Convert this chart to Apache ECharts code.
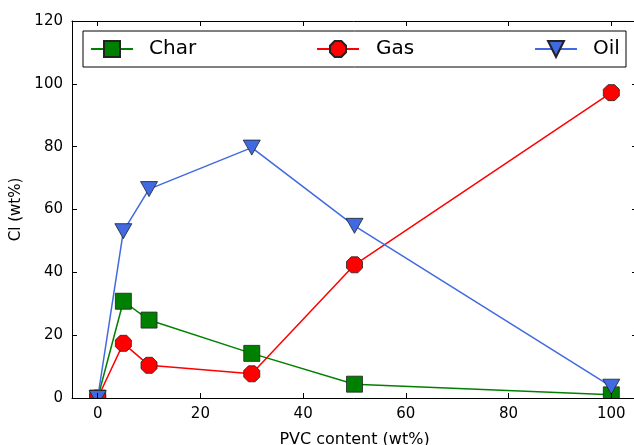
<!DOCTYPE html>
<html>
<head>
<meta charset="utf-8">
<script src="https://cdn.jsdelivr.net/npm/echarts@6/dist/echarts.min.js"></script>
<style>
html,body{margin:0;padding:0;background:#fff;}
#chart{width:634px;height:445px;}
</style>
</head>
<body>
<div id="chart"></div>
<script>
// Data
var pvcContent = [0, 5, 10, 30, 50, 100];
var charValues = [0, 30.8, 24.8, 14.2, 4.4, 1.0];
var gasValues  = [0, 17.4, 10.4, 7.7, 42.4, 97.2];
var oilValues  = [0, 53.1, 66.5, 79.7, 54.8, 3.6];
var xTicks = [0, 20, 40, 60, 80, 100];
var seriesNames = ['Char', 'Gas', 'Oil'];

function pairs(xs, ys){ return xs.map(function(x,i){ return [x, ys[i]]; }); }

var octagon = 'path://M691,38 L962,309 L962,691 L691,962 L309,962 L38,691 L38,309 L309,38 Z';
var triDown = 'path://M0,0 L1000,0 L500,866 Z';

var FONT = 'DejaVu Sans';
var chart = echarts.init(document.getElementById('chart'), null, {renderer:'canvas'});

function legendAt(name, left, textPad){
  return {
    data:[name], left:left, top:39, orient:'horizontal', padding:0,
    itemWidth:42, itemHeight:20, z:4,
    textStyle:{fontFamily:FONT, fontSize:20, color:'#000', padding:[0,0,0,textPad]}
  };
}

var axisCommon = {
  axisLine:{show:true, onZero:false, lineStyle:{color:'#000', width:1}},
  splitLine:{show:false}
};

chart.setOption({
  animation:false,
  backgroundColor:'#fff',
  grid:{left:72, top:21, width:565, height:377, containLabel:false, outerBoundsMode:'none'},
  legend:[
    legendAt(seriesNames[0], 90, 11),
    legendAt(seriesNames[1], 316, 12),
    legendAt(seriesNames[2], 534, 11)
  ],
  graphic:[
    {type:'rect', shape:{x:83, y:31, width:543, height:36}, style:{fill:'#fff', stroke:'#000', lineWidth:1}, z:3},
    {type:'rect', shape:{x:0, y:398.5, width:634, height:50}, style:{fill:'#fff'}, z:5}
  ],
  xAxis:[
    Object.assign({}, axisCommon, {
      type:'value', min:-5, max:105, position:'bottom', z:10,
      name:'PVC content (wt%)', nameLocation:'middle', nameGap:34,
      nameTextStyle:{fontFamily:FONT, fontSize:16, color:'#000'},
      axisTick:{show:true, inside:true, length:5, customValues:xTicks, lineStyle:{color:'#000'}},
      axisLabel:{show:true, customValues:xTicks, margin:9, fontFamily:FONT, fontSize:15, color:'#000'}
    }),
    Object.assign({}, axisCommon, {
      type:'value', min:-5, max:105, position:'top', z:10,
      axisTick:{show:true, inside:true, length:5, customValues:xTicks, lineStyle:{color:'#000'}},
      axisLabel:{show:false}
    })
  ],
  yAxis:[
    Object.assign({}, axisCommon, {
      type:'value', min:0, max:120, interval:20, position:'left', z:10,
      name:'Cl (wt%)', nameLocation:'middle', nameGap:36, nameRotate:90,
      nameTextStyle:{fontFamily:FONT, fontSize:15, color:'#000'},
      axisTick:{show:true, inside:true, length:5, lineStyle:{color:'#000'}},
      axisLabel:{show:true, margin:9, fontFamily:FONT, fontSize:15, color:'#000'}
    }),
    Object.assign({}, axisCommon, {
      type:'value', min:0, max:120, interval:20, position:'right', z:10,
      axisTick:{show:true, inside:true, length:5, lineStyle:{color:'#000'}},
      axisLabel:{show:false}
    })
  ],
  series:[
    {
      name:'Char', type:'line', data:pairs(pvcContent, charValues),
      symbol:'rect', symbolSize:16, clip:false,
      lineStyle:{color:'#008000', width:1.5},
      itemStyle:{color:'#008000', borderColor:'#222', borderWidth:0.8},
      z:2
    },
    {
      name:'Gas', type:'line', data:pairs(pvcContent, gasValues),
      symbol:octagon, symbolSize:16, clip:false,
      lineStyle:{color:'#ff0000', width:1.5},
      itemStyle:{color:'#ff0000', borderColor:'#222', borderWidth:0.8},
      z:3
    },
    {
      name:'Oil', type:'line', data:pairs(pvcContent, oilValues),
      symbol:triDown, symbolSize:[17,15], clip:false,
      lineStyle:{color:'#4169e1', width:1.5},
      itemStyle:{color:'#4169e1', borderColor:'#222', borderWidth:0.8},
      z:4
    }
  ]
});
</script>
</body>
</html>
